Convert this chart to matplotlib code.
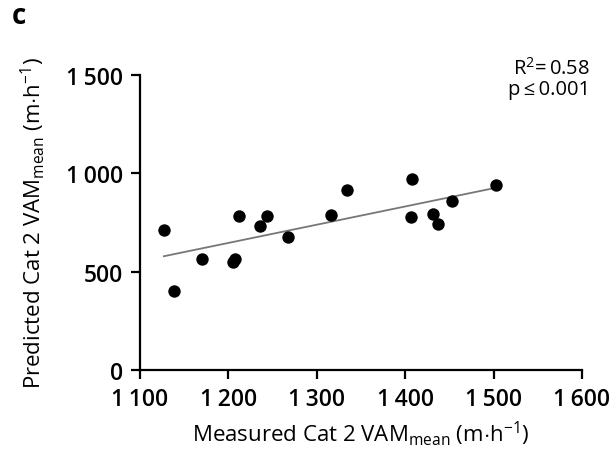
import numpy as np
import matplotlib
matplotlib.use("Agg")
import matplotlib.pyplot as plt
from matplotlib.ticker import FuncFormatter

plt.rcParams['font.family'] = ['Open Sans', 'DejaVu Sans']
plt.rcParams['mathtext.fontset'] = 'custom'
plt.rcParams['mathtext.rm'] = 'Open Sans'

# measured vs predicted Cat 2 VAM (m/h)
measured = [1127, 1138, 1170, 1205, 1207, 1212, 1236, 1244, 1267, 1316,
            1334, 1408, 1407, 1431, 1437, 1453, 1503]
predicted = [714, 403, 565, 548, 565, 785, 731, 781, 675, 788,
             917, 971, 777, 793, 743, 858, 942]
xticks = [1100, 1200, 1300, 1400, 1500, 1600]
yticks = [0, 500, 1000, 1500]

fig = plt.figure(figsize=(6.13, 4.56), dpi=100)
ax = fig.add_axes([0.2284, 0.1864, 0.7210, 0.6469])

ax.scatter(measured, predicted, s=80, color='black', zorder=3, linewidths=0)
k, b0 = np.polyfit(measured, predicted, 1)
xs = np.array([min(measured), max(measured)])
ax.plot(xs, k * xs + b0, color='#777777', lw=1.3, zorder=2)

ax.set_xlim(1100, 1600)
ax.set_ylim(0, 1500)
ax.set_xticks(xticks)
ax.set_yticks(yticks)
fmt = FuncFormatter(lambda v, p: f"{int(v):,}".replace(',', '\u2009'))
ax.xaxis.set_major_formatter(fmt)
ax.yaxis.set_major_formatter(fmt)
for s in ['top', 'right']:
    ax.spines[s].set_visible(False)
for s in ['left', 'bottom']:
    ax.spines[s].set_linewidth(1.6)
ax.tick_params(width=1.6, length=6.5, labelsize=16.5, pad=6)
for lab in ax.get_xticklabels() + ax.get_yticklabels():
    lab.set_fontweight('semibold')

ax.set_xlabel(r'Measured Cat 2 VAM$_{\mathrm{mean}}$ (m$\cdot$h$^{\mathrm{-1}}$)', fontsize=16, labelpad=5, fontweight='medium')
ax.set_ylabel(r'Predicted Cat 2 VAM$_{\mathrm{mean}}$ (m$\cdot$h$^{\mathrm{-1}}$)', fontsize=16, labelpad=13, fontweight='medium')

fig.text(0.963, 0.827, 'R$^{2}$=\u20090.58\np\u2009\u2264\u20090.001', ha='right', va='center', fontsize=14.5, linespacing=1.05)
fig.text(0.031, 0.964, 'c', fontsize=20, fontweight='bold', ha='center', va='center')

fig.savefig('out.png', dpi=100)
